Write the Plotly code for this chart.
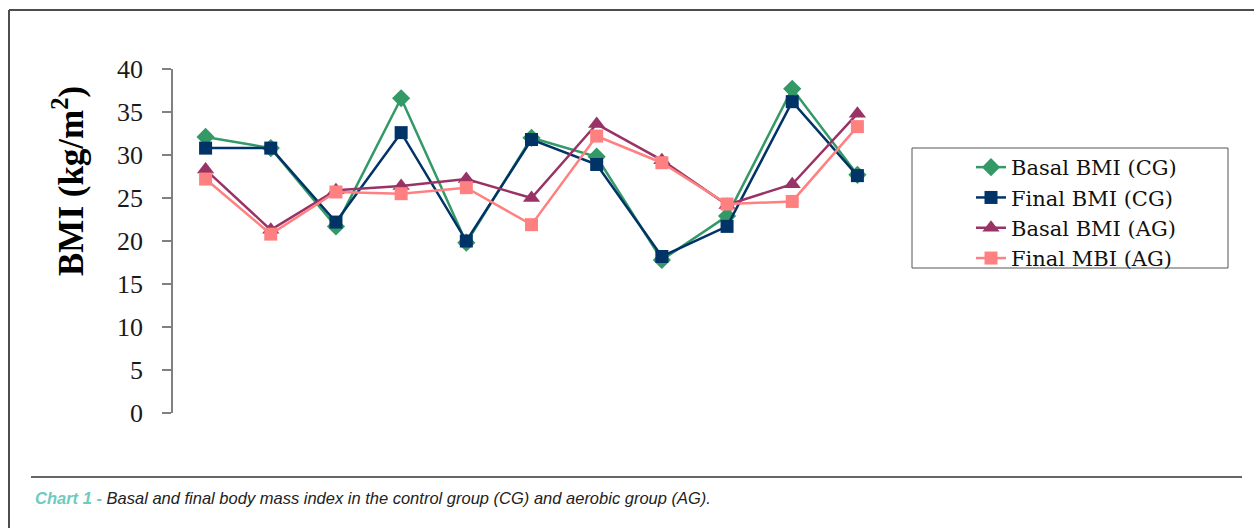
import plotly.graph_objects as go

# Subjects (category positions along the x axis)
subjects = [1, 2, 3, 4, 5, 6, 7, 8, 9, 10, 11]

# BMI values (kg/m^2)
basal_cg = [32.1, 30.8, 21.7, 36.6, 19.8, 32.0, 29.8, 17.8, 22.9, 37.7, 27.7]
final_cg = [30.8, 30.8, 22.2, 32.6, 20.0, 31.8, 28.9, 18.2, 21.7, 36.2, 27.6]
basal_ag = [28.3, 21.3, 25.9, 26.4, 27.2, 25.0, 33.6, 29.4, 24.2, 26.6, 34.8]
final_ag = [27.2, 20.8, 25.7, 25.5, 26.2, 21.9, 32.2, 29.1, 24.3, 24.6, 33.3]

series = [
    ("Basal BMI (CG)", basal_cg, "#339966", "diamond", 14),
    ("Final BMI (CG)", final_cg, "#003366", "square", 13),
    ("Basal BMI (AG)", basal_ag, "#993366", "triangle-up", 15),
    ("Final MBI (AG)", final_ag, "#FF8080", "square", 13),
]

W, H = 1254, 528
# plot area in pixels
L, R, T, B = 173, 890, 69, 413


def px_x(p):
    return (p - L) / (R - L)


def px_y(p):
    return (B - p) / (B - T)


fig = go.Figure()
for name, vals, color, symbol, size in series:
    fig.add_trace(go.Scatter(
        x=subjects, y=vals, name=name, mode="lines+markers",
        line=dict(color=color, width=2.5),
        marker=dict(symbol=symbol, size=size, color=color,
                    line=dict(width=0)),
        cliponaxis=False,
    ))

serif = "Liberation Serif, Times New Roman, serif"

fig.update_layout(
    width=W, height=H,
    margin=dict(l=L, r=W - R, t=T, b=H - B, autoexpand=False),
    paper_bgcolor="white", plot_bgcolor="white",
    showlegend=True,
    legend=dict(
        x=px_x(971), y=px_y(147), xanchor="left", yanchor="top",
        borderwidth=0, bgcolor="rgba(0,0,0,0)",
        font=dict(family="DejaVu Serif, serif", size=21, color="#111111"),
        tracegroupgap=0, traceorder="normal",
    ),
    xaxis=dict(
        range=[0.5, 11.5], showline=False, showgrid=False,
        zeroline=False, showticklabels=False, ticks="",
    ),
    yaxis=dict(
        range=[0, 40], tickvals=[0, 5, 10, 15, 20, 25, 30, 35, 40],
        showline=True, linecolor="#808080", linewidth=1.5,
        ticks="outside", ticklen=9, tickcolor="#808080", tickwidth=1.5,
        showgrid=False, zeroline=False,
        tickfont=dict(family=serif, size=26, color="#1a1a1a"),
        ticklabelstandoff=14,
    ),
    font=dict(family=serif),
)

# legend frame
fig.add_shape(type="rect", xref="paper", yref="paper",
              x0=px_x(912), x1=px_x(1228), y0=px_y(148), y1=px_y(268),
              line=dict(color="#555555", width=1), fillcolor="rgba(0,0,0,0)",
              layer="below")

# y-axis title
fig.add_annotation(
    x=px_x(68), y=px_y(181), xref="paper", yref="paper",
    text="<b>BMI (kg/m<sup>2</sup>)</b>", textangle=-90, showarrow=False,
    font=dict(family=serif, size=35, color="#000000"),
    xanchor="center", yanchor="middle",
)

# figure frame and caption rule
frame_color = "#4d4d4d"
fig.add_shape(type="line", xref="paper", yref="paper",
              x0=px_x(9), x1=px_x(1260), y0=px_y(10), y1=px_y(10),
              line=dict(color=frame_color, width=2))
fig.add_shape(type="line", xref="paper", yref="paper",
              x0=px_x(9), x1=px_x(9), y0=px_y(10), y1=px_y(535),
              line=dict(color=frame_color, width=2))
fig.add_shape(type="line", xref="paper", yref="paper",
              x0=px_x(31), x1=px_x(1242), y0=px_y(477), y1=px_y(477),
              line=dict(color="#333333", width=1.5))

# caption
fig.add_annotation(
    x=px_x(33), y=px_y(498), xref="paper", yref="paper",
    text=("<i><span style='color:#6fcabd'><b>Chart 1 -</b></span> "
          "Basal and final body mass index in the control group (CG) "
          "and aerobic group (AG).</i>"),
    showarrow=False, xanchor="left", yanchor="middle", align="left",
    font=dict(family="Liberation Sans, Arial, sans-serif",
              size=16.5, color="#222222"),
)

fig.write_html("out.html")
